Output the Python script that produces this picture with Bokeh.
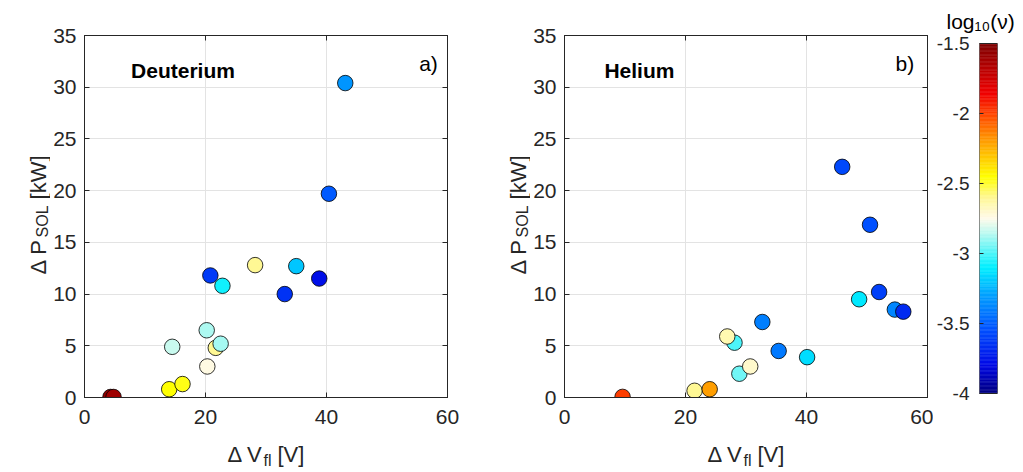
import numpy as np
from bokeh.plotting import figure
from bokeh.layouts import row, column
from bokeh.models import Range1d, LinearAxis, FixedTicker, Label, ColumnDataSource, LinearColorMapper, CustomJSTickFormatter
from bokeh.embed import file_html
from bokeh.resources import INLINE

# ---------------- data ----------------
d_vfl = [4.3, 4.8, 14.0, 16.2, 14.5, 20.2, 20.3, 21.7, 22.5, 20.8, 22.8, 28.2, 33.1, 35.0, 38.8, 40.4, 43.1]
d_psol = [0.05, 0.05, 0.8, 1.3, 4.9, 6.5, 3.0, 4.8, 5.2, 11.8, 10.8, 12.8, 10.0, 12.7, 11.5, 19.7, 30.4]
d_lognu = [-1.55, -1.6, -2.45, -2.47, -2.83, -2.87, -2.74, -2.6, -2.88, -3.62, -3.08, -2.6, -3.65, -3.2, -3.78, -3.52, -3.33]

he_vfl = [9.6, 21.5, 24.0, 28.1, 26.9, 28.9, 30.7, 32.7, 35.4, 40.1, 45.9, 50.5, 48.7, 52.0, 54.6, 56.0]
he_psol = [0.06, 0.65, 0.8, 5.3, 5.9, 2.3, 3.0, 7.3, 4.5, 3.9, 22.3, 16.7, 9.5, 10.2, 8.5, 8.3]
he_lognu = [-1.98, -2.6, -2.2, -3.0, -2.65, -2.95, -2.7, -3.4, -3.42, -3.15, -3.58, -3.55, -3.12, -3.6, -3.38, -3.68]

x_ticks = [0, 20, 40, 60]
y_ticks = [0, 5, 10, 15, 20, 25, 30, 35]
cb_ticks = [-4, -3.5, -3, -2.5, -2, -1.5]
cb_low, cb_high = -4.0, -1.5

# ---------------- style ----------------
FONT = "Liberation Sans"
AX = "#262626"
GRID = "#e3e3e3"

anchor_v = [-4.0, -3.8, -3.55, -3.3, -3.1, -2.85, -2.75, -2.6, -2.45, -2.2, -2.0, -1.85, -1.5]
anchor_c = [(0, 0, 128), (0, 10, 230), (0, 80, 255), (0, 160, 255), (0, 240, 255), (190, 250, 240),
            (255, 250, 235), (255, 248, 150), (255, 255, 0), (255, 160, 0), (255, 70, 0), (240, 0, 0), (128, 0, 0)]
grid_v = np.linspace(cb_low, cb_high, 256)
palette = []
for v in grid_v:
    rgb = [int(round(np.interp(v, anchor_v, [c[k] for c in anchor_c]))) for k in range(3)]
    palette.append("#%02x%02x%02x" % tuple(rgb))
mapper = LinearColorMapper(palette=palette, low=cb_low, high=cb_high)

FW, FH = 365, 362
TOP, BOT = 35, 38
H = TOP + FH + BOT          # 435
XLAB_H = 37
BL = 32                     # left border of the panels (tick labels)
EMPTY = CustomJSTickFormatter(code='return "";')


def style_axis(ax, ticks, show_labels=True, size="21px"):
    ax.ticker = FixedTicker(ticks=ticks)
    ax.major_tick_in = 5
    ax.major_tick_out = 0
    ax.minor_tick_in = 0
    ax.minor_tick_out = 0
    ax.axis_line_color = AX
    ax.major_tick_line_color = AX
    ax.major_label_text_font = FONT
    ax.major_label_text_color = AX
    ax.major_label_text_font_size = size
    if not show_labels:
        ax.formatter = EMPTY
        ax.major_label_standoff = 0


def lab(**kw):
    base = dict(text_font=FONT, text_baseline="alphabetic", text_align="left", text_color=AX)
    base.update(kw)
    return Label(**base)


def blank(w, h, xr, yr, top=0, bottom=0):
    f = figure(width=w, height=h, x_range=xr, y_range=yr, x_axis_type=None, y_axis_type=None,
               output_backend="svg", toolbar_location=None, min_border_left=0, min_border_right=0,
               min_border_top=top, min_border_bottom=bottom)
    f.outline_line_color = None
    f.grid.visible = False
    return f


def panel(xs, ys, cs, name, name_x, tag, tag_x, bl, br):
    p = figure(width=bl + FW + br, height=H, x_range=Range1d(0, 60), y_range=Range1d(0, 35),
               output_backend="svg", toolbar_location=None, min_border_left=bl, min_border_right=br,
               min_border_top=TOP, min_border_bottom=BOT)
    p.outline_line_color = AX
    style_axis(p.xaxis[0], x_ticks)
    style_axis(p.yaxis[0], y_ticks)
    p.xaxis.major_label_standoff = 12
    p.yaxis.major_label_standoff = 8
    ra = LinearAxis()
    style_axis(ra, y_ticks, False)
    p.add_layout(ra, "right")
    ta = LinearAxis()
    style_axis(ta, x_ticks, False)
    p.add_layout(ta, "above")
    p.xgrid.ticker = FixedTicker(ticks=x_ticks)
    p.ygrid.ticker = FixedTicker(ticks=y_ticks)
    p.xgrid.grid_line_color = GRID
    p.ygrid.grid_line_color = GRID

    src = ColumnDataSource(dict(x=xs, y=ys, c=cs))
    p.scatter("x", "y", source=src, size=15.5, fill_color={"field": "c", "transform": mapper},
              line_color="black", line_width=0.8)

    p.add_layout(lab(x=name_x, y=31.6, text=name, text_font_size="21px", text_font_style="bold",
                     text_baseline="middle", text_color="black"))
    p.add_layout(lab(x=tag_x, y=32.3, text=tag, text_font_size="21px", text_baseline="middle",
                     text_align="right", text_color="black"))
    return p


def ylabel_fig(w, xpos):
    f = blank(w, H, Range1d(0, w), Range1d(0, 35), TOP, BOT)
    y0 = 11.9
    f.add_layout(lab(x=xpos, y=y0, angle=np.pi / 2, text="\u0394 P", text_font_size="22px"))
    f.add_layout(lab(x=xpos, y=y0, angle=np.pi / 2, x_offset=4, y_offset=37, text="SOL", text_font_size="16px"))
    f.add_layout(lab(x=xpos, y=y0, angle=np.pi / 2, y_offset=75, text="[kW]", text_font_size="22px"))
    return f


pa = panel(d_vfl, d_psol, d_lognu, "Deuterium", 7.7, "a)", 58.4, BL, 51)
pb = panel(he_vfl, he_psol, he_lognu, "Helium", 6.6, "b)", 57.8, BL, 6)
YLA_W = 82 - BL
YLB_W = 562 - BL - (YLA_W + BL + FW + 51)
yla = ylabel_fig(YLA_W, 38)
ylb = ylabel_fig(YLB_W, 518 - (YLA_W + BL + FW + 51))

# ---------------- colorbar ----------------
CBL, CBW, CBR = 44, 20, 26
px_per = 350 / (cb_high - cb_low)
pc = figure(width=CBL + CBW + CBR, height=H, x_range=Range1d(0, 1),
            y_range=Range1d(cb_low - 4 / px_per, cb_high + 8 / px_per), output_backend="svg",
            toolbar_location=None, min_border_left=CBL, min_border_right=CBR, min_border_top=TOP,
            min_border_bottom=BOT, title="log\u2081\u2080(\u03bd)")
pc.xaxis.visible = False
pc.grid.visible = False
pc.outline_line_color = None
pc.title.text_font = FONT
pc.title.text_font_size = "21px"
pc.title.text_font_style = "normal"
pc.title.text_color = "black"
pc.title.align = "left"
pc.title.offset = -33
pc.title.standoff = 5
edges = np.linspace(cb_low, cb_high, 257)
csrc = ColumnDataSource(dict(b=edges[:-1], t=edges[1:], v=(edges[:-1] + edges[1:]) / 2))
pc.quad(left=0, right=1, bottom="b", top="t", source=csrc,
        fill_color={"field": "v", "transform": mapper}, line_color={"field": "v", "transform": mapper},
        line_width=0.5)
pc.quad(left=0, right=1, bottom=cb_low, top=cb_high, fill_color=None, line_color=AX, line_width=1)
style_axis(pc.yaxis[0], cb_ticks, size="19px")
pc.yaxis.axis_line_color = None
pc.yaxis.major_tick_in = 4
pc.yaxis.major_label_standoff = 10
pc.yaxis.formatter = CustomJSTickFormatter(code="return tick.toString();")

# ---------------- x labels strip ----------------
W = YLA_W + (BL + FW + 51) + YLB_W + (BL + FW + 6) + (CBL + CBW + CBR)
xl = blank(W, XLAB_H, Range1d(0, W), Range1d(0, XLAB_H))
for x0 in (227, 707):
    xl.add_layout(lab(x=x0, y=18, text="\u0394 V", text_font_size="22px"))
    xl.add_layout(lab(x=x0, y=18, x_offset=36, y_offset=-6, text="fl", text_font_size="16px"))
    xl.add_layout(lab(x=x0, y=18, x_offset=50, text="[V]", text_font_size="22px"))

layout = column(row(yla, pa, ylb, pb, pc), xl)
open("out.html", "w").write(file_html(layout, INLINE))
